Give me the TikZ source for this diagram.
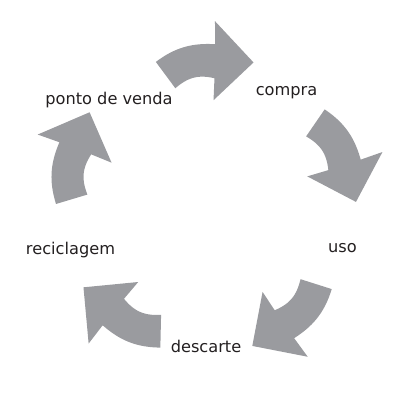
\documentclass[tikz,border=0pt]{standalone}
\usepackage{fontspec}
\setmainfont{DejaVu Sans}
\definecolor{arrowgray}{RGB}{154,155,159}
\definecolor{textdark}{RGB}{35,31,32}
\newcommand\cyclearrowshape[1]{%
  \begin{scope}[shift={(ctr)}, rotate=#1]
    \fill[cyclearrow] (0:149) -- (15.7:183)
      -- plot[domain=15.3:38, samples=24, variable=\t]
         (\t:{160-9*(\t-15.3)/22.7+3*sin(180*(\t-15.3)/22.7)})
      -- plot[domain=33.5:14.8, samples=24, variable=\t]
         (\t:{120+6*(33.5-\t)/18.7+4*sin(180*(33.5-\t)/18.7)})
      -- (14.6:104) -- cycle;
  \end{scope}}
\begin{document}
\begin{tikzpicture}[x=1pt,y=1pt,
  lbl/.style={anchor=base, text=textdark, font=\fontsize{16.2}{20}\selectfont, inner sep=0pt},
  cyclearrow/.style={fill=arrowgray, draw=none}]
\useasboundingbox (0,0) rectangle (406,406);
\coordinate (ctr) at (207,202);
\cyclearrowshape{71.8}
\cyclearrowshape{0.8}
\cyclearrowshape{-72.3}
\cyclearrowshape{-146}
\cyclearrowshape{142}
\node[lbl] (ponto) at (109,301) {ponto de venda};
\node[lbl] (compra) at (286.5,310.3) {compra};
\node[lbl] (uso) at (342.5,153.3) {uso};
\node[lbl] (descarte) at (206,53.3) {descarte};
\node[lbl] (recic) at (70.5,151) {reciclagem};
\end{tikzpicture}
\end{document}
